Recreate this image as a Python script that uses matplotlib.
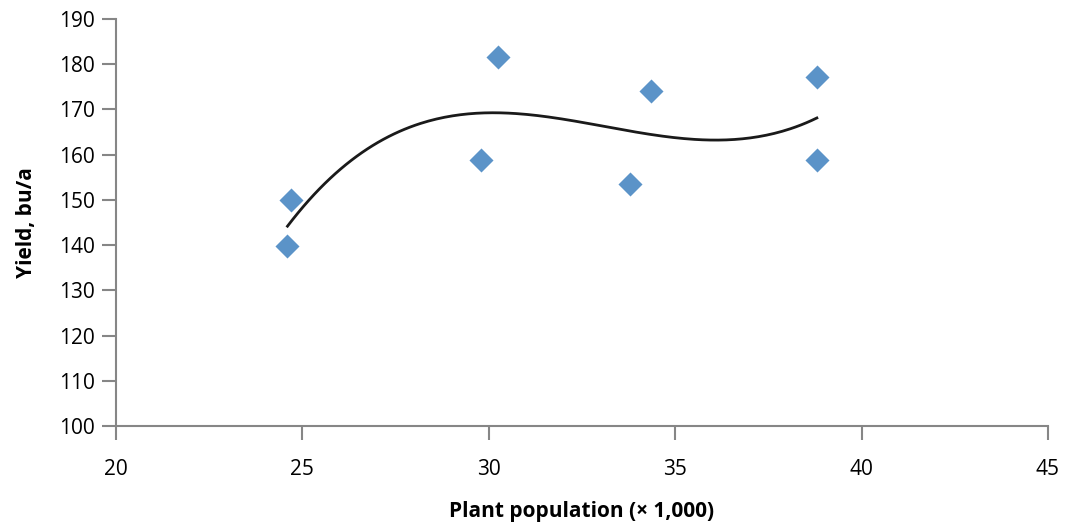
import numpy as np
import matplotlib.pyplot as plt

# plant population (x 1,000) and yield (bu/a)
population = [24.6, 24.7, 29.8, 30.25, 33.8, 34.35, 38.8, 38.8]
yield_bu = [139.7, 150.0, 158.9, 181.5, 153.6, 174.1, 177.1, 158.9]

x_ticks = [20, 25, 30, 35, 40, 45]
y_ticks = [100, 110, 120, 130, 140, 150, 160, 170, 180, 190]

plt.rcParams['font.family'] = ['Open Sans', 'DejaVu Sans']

fig = plt.figure(figsize=(10.65, 5.29), dpi=100)
ax = fig.add_axes([116/1065, 103/529, 932/1065, 407/529])

# cubic trendline like the spreadsheet one
coef = np.polyfit(population, yield_bu, 3)
xs = np.linspace(min(population), max(population), 200)
ax.plot(xs, np.polyval(coef, xs), color='#1a1a1a', lw=2, zorder=2)

ax.scatter(population, yield_bu, marker='D', s=150, color='#5b93c8', zorder=3,
           linewidths=0)

ax.set_xlim(20, 45)
ax.set_ylim(100, 190)
ax.set_xticks(x_ticks)
ax.set_yticks(y_ticks)
for s in ['top', 'right']:
    ax.spines[s].set_visible(False)
for s in ['left', 'bottom']:
    ax.spines[s].set_color('#868686')
    ax.spines[s].set_linewidth(1.5)
ax.tick_params(colors='#868686', labelcolor='black', length=10, width=1.5,
               labelsize=15, direction='out')
ax.tick_params(axis='y', pad=5)
ax.tick_params(axis='x', pad=14)

ax.set_xlabel('Plant population (\u00d7 1,000)', fontsize=15, fontweight='bold', labelpad=15)
ax.set_ylabel('Yield, bu/a', fontsize=15, fontweight='bold', labelpad=16)

fig.savefig('out.png', dpi=100)
